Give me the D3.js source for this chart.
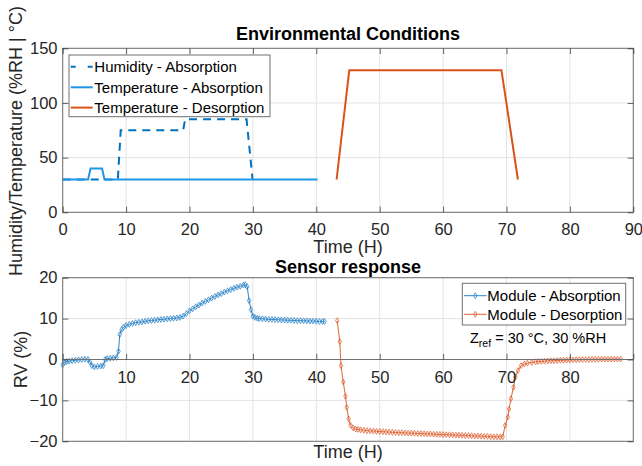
<!DOCTYPE html>
<html>
<head>
<meta charset="utf-8">
<script src="https://cdn.jsdelivr.net/npm/d3@7"></script>
<style>
  html, body { margin: 0; padding: 0; background: #fff; }
  svg { display: block; font-family: "Liberation Sans", Arial, Helvetica, sans-serif; }
</style>
</head>
<body>
<svg id="chart" width="642" height="466"></svg>
<script>
// ---------- DATA ----------
// Top panel: environmental conditions
const humAbsTime = [0, 8.7, 9.15, 19.0, 19.3, 29.0, 29.95];
const humAbsVal  = [30, 30, 75, 75, 85, 85, 30];
const tempAbsTime = [0, 4.0, 4.4, 6.2, 6.6, 40.2];
const tempAbsVal  = [30, 30, 40, 40, 30, 30];
const tempDesTime = [43.2, 45.2, 69.2, 71.8];
const tempDesVal  = [30, 130, 130, 30];

// Bottom panel: sensor response (RV %)
const absTime = [0, 0.3, 0.6, 1.0, 1.5, 2.0, 2.5, 3.0, 3.5, 4.0, 4.3, 4.6, 5.0, 5.5, 6.0, 6.4, 6.7, 7.0, 7.5, 8.0, 8.5, 8.8, 9.0, 9.3, 9.6,
  10.0, 10.5, 11.0, 11.5, 12.0, 12.5, 13.0, 13.5, 14.0, 14.5, 15.0, 15.5, 16.0, 16.5, 17.0, 17.5, 18.0, 18.5, 19.0, 19.5,
  20.0, 20.5, 21.0, 21.5, 22.0, 22.5, 23.0, 23.5, 24.0, 24.5, 25.0, 25.5, 26.0, 26.5, 27.0, 27.5, 28.0, 28.5, 28.8, 29.1, 29.4, 29.7,
  30.0, 30.3, 30.7, 31.0, 31.5, 32.0, 32.5, 33.0, 33.5, 34.0, 34.5, 35.0, 35.5, 36.0, 36.5, 37.0, 37.5, 38.0, 38.5, 39.0, 39.5,
  40.0, 40.5, 41.0, 41.3];
const absRV = [-1.3, -0.7, -0.5, -0.4, -0.3, -0.2, -0.1, 0.0, 0.1, 0.0, -0.6, -1.5, -1.8, -1.7, -1.6, -1.5, 0.0, 0.2, 0.3, 0.4, 0.5, 2.0, 6.1, 7.3, 7.9,
  8.3, 8.6, 8.8, 9.0, 9.1, 9.2, 9.35, 9.45, 9.55, 9.6, 9.7, 9.8, 9.85, 9.95, 10.0, 10.1, 10.15, 10.3, 10.6, 11.2,
  11.9, 12.4, 12.9, 13.3, 13.8, 14.2, 14.6, 15.0, 15.4, 15.8, 16.1, 16.5, 16.8, 17.1, 17.4, 17.7, 17.9, 18.2, 18.3, 17.8, 14.4, 12.2,
  10.6, 10.3, 10.1, 10.0, 9.95, 9.9, 9.8, 9.8, 9.75, 9.7, 9.7, 9.65, 9.6, 9.6, 9.55, 9.5, 9.5, 9.45, 9.45, 9.4, 9.4,
  9.35, 9.3, 9.3, 9.3];

const desTime = [43.3, 43.7, 43.9, 44.25, 44.6, 44.8, 45.1, 45.4, 45.8, 46.2, 46.6, 47.0, 47.5, 48.0, 48.5, 49.0, 49.5,
  50.0, 50.5, 51.0, 51.5, 52.0, 52.5, 53.0, 53.5, 54.0, 54.5, 55.0, 55.5, 56.0, 56.5, 57.0, 57.5, 58.0, 58.5, 59.0, 59.5,
  60.0, 60.5, 61.0, 61.5, 62.0, 62.5, 63.0, 63.5, 64.0, 64.5, 65.0, 65.5, 66.0, 66.5, 67.0, 67.5, 68.0, 68.5, 69.0, 69.4,
  69.8, 70.2, 70.4, 70.7, 71.1, 71.4, 71.8, 72.3, 72.8, 73.3, 74.0, 74.6, 75.0, 75.5, 76.0, 76.5, 77.0, 77.5, 78.0, 78.5,
  79.0, 79.5, 80.0, 80.5, 81.0, 81.5, 82.0, 82.5, 83.0, 83.5, 84.0, 84.5, 85.0, 85.5, 86.0, 86.5, 87.0, 87.5, 88.0];
const desRV = [9.5, 4.4, -1.5, -5.5, -9.0, -11.7, -14.5, -16.1, -16.7, -17.0, -17.1, -17.2, -17.3, -17.4, -17.45, -17.5, -17.55,
  -17.6, -17.65, -17.7, -17.75, -17.8, -17.85, -17.9, -17.9, -17.95, -18.0, -18.0, -18.05, -18.1, -18.1, -18.15, -18.2, -18.2, -18.25, -18.3, -18.3,
  -18.35, -18.4, -18.4, -18.45, -18.5, -18.5, -18.55, -18.6, -18.6, -18.65, -18.7, -18.7, -18.75, -18.8, -18.8, -18.85, -18.9, -18.9, -18.95, -18.9,
  -16.1, -14.1, -12.1, -9.6, -6.8, -4.3, -2.7, -1.5, -1.1, -0.9, -0.7, -0.55, -0.5, -0.45, -0.4, -0.35, -0.3, -0.3, -0.25, -0.2,
  -0.2, -0.15, -0.1, -0.1, -0.05, -0.05, 0.0, 0.0, 0.0, 0.05, 0.05, 0.05, 0.1, 0.1, 0.1, 0.1, 0.1, 0.1, 0.1];

// Tick values / labels
const xTicks = [0, 10, 20, 30, 40, 50, 60, 70, 80, 90];
const xTicksBottomLabels = [10, 20, 30, 40, 50, 60, 70, 80];
const yTicksTop = [0, 50, 100, 150];
const yTicksBottom = [-20, -10, 0, 10, 20];

const topLegend = ["Humidity - Absorption", "Temperature - Absorption", "Temperature - Desorption"];
const bottomLegend = ["Module - Absorption", "Module - Desorption"];

// ---------- STYLE ----------
const C = {
  hum: "#0072BD",
  tempAbs: "#1E96E6",
  tempDes: "#D95319",
  modAbs: "#2F86C9",
  modDes: "#E0673A",
  axis: "#707070",
  text: "#262626",
  grid: "#e3e3e3"
};

const svg = d3.select("#chart");

const L = 62.7, R = 633.3;
const xTop = d3.scaleLinear().domain([0, 90]).range([L, R]);
const yTop = d3.scaleLinear().domain([0, 150]).range([212.3, 48.3]);
const xBot = d3.scaleLinear().domain([0, 90]).range([L, R]);
const yBot = d3.scaleLinear().domain([-20, 20]).range([441.3, 277.7]);

const tickLen = 5.7;
const tickFont = "16.5px";

function styleAxis(g, keepText) {
  g.select(".domain").remove();
  g.selectAll(".tick line").attr("stroke", C.text).attr("stroke-width", 0.7);
  g.selectAll(".tick text").attr("fill", C.text).style("font-size", tickFont)
    .style("font-family", "'Liberation Sans', Arial, sans-serif");
  if (!keepText) g.selectAll(".tick text").remove();
}

function panel(x, y, xtickValues, ytickValues) {
  const g = svg.append("g");
  const [y0, y1] = y.range();
  g.append("g").selectAll("line").data(xtickValues).join("line")
    .attr("x1", d => x(d)).attr("x2", d => x(d)).attr("y1", y1).attr("y2", y0)
    .attr("stroke", C.grid).attr("stroke-width", 1);
  g.append("g").selectAll("line").data(ytickValues).join("line")
    .attr("x1", L).attr("x2", R).attr("y1", d => y(d)).attr("y2", d => y(d))
    .attr("stroke", C.grid).attr("stroke-width", 1);
  return g;
}

function frame(x, y) {
  const [y0, y1] = y.range();
  svg.append("rect").attr("x", L).attr("y", y1).attr("width", R - L).attr("height", y0 - y1)
    .attr("fill", "none").attr("stroke", C.axis).attr("stroke-width", 1);
}

const zip = (a, b) => a.map((v, i) => [v, b[i]]);

// ================= TOP PANEL =================
panel(xTop, yTop, xTicks, yTicksTop);

const lineTop = d3.line().x(d => xTop(d[0])).y(d => yTop(d[1]));

svg.append("path").datum(zip(humAbsTime, humAbsVal)).attr("d", lineTop)
  .attr("fill", "none").attr("stroke", C.hum).attr("stroke-width", 2).attr("stroke-dasharray", "8,6");
svg.append("path").datum(zip(tempAbsTime, tempAbsVal)).attr("d", lineTop)
  .attr("fill", "none").attr("stroke", C.tempAbs).attr("stroke-width", 2);
svg.append("path").datum(zip(tempDesTime, tempDesVal)).attr("d", lineTop)
  .attr("fill", "none").attr("stroke", C.tempDes).attr("stroke-width", 2);

frame(xTop, yTop);

svg.append("g").attr("transform", `translate(0,${yTop(0)})`)
  .call(d3.axisBottom(xTop).tickValues(xTicks).tickSizeInner(-tickLen).tickSizeOuter(0).tickPadding(11.3).tickFormat(d3.format("d")))
  .call(g => styleAxis(g, true));
svg.append("g").attr("transform", `translate(0,${yTop(150)})`)
  .call(d3.axisTop(xTop).tickValues(xTicks).tickSizeInner(-tickLen).tickSizeOuter(0))
  .call(g => styleAxis(g, false));
svg.append("g").attr("transform", `translate(${L},0)`)
  .call(d3.axisLeft(yTop).tickValues(yTicksTop).tickSizeInner(-tickLen).tickSizeOuter(0).tickPadding(5.2))
  .call(g => styleAxis(g, true));
svg.append("g").attr("transform", `translate(${R},0)`)
  .call(d3.axisRight(yTop).tickValues(yTicksTop).tickSizeInner(-tickLen).tickSizeOuter(0))
  .call(g => styleAxis(g, false));

svg.append("text").attr("x", (L + R) / 2).attr("y", 40).attr("text-anchor", "middle")
  .style("font-size", "18px").style("font-weight", "bold").attr("fill", "#000").text("Environmental Conditions");
svg.append("text").attr("x", (L + R) / 2).attr("y", 252.5).attr("text-anchor", "middle")
  .style("font-size", "18px").attr("fill", C.text).text("Time (H)");
svg.append("text").attr("transform", `translate(22,141) rotate(-90)`)
  .attr("text-anchor", "middle").style("font-size", "18px").attr("fill", C.text)
  .text("Humidity/Temperature (%RH | °C)");

{
  const lg = svg.append("g");
  lg.append("rect").attr("x", 69).attr("y", 55).attr("width", 201).attr("height", 61.7)
    .attr("fill", "#fff").attr("stroke", C.axis).attr("stroke-width", 1);
  const rows = [66.7, 87.3, 107.6];
  const cols = [C.hum, C.tempAbs, C.tempDes];
  topLegend.forEach((t, i) => {
    lg.append("line").attr("x1", 70.7).attr("x2", 92.7).attr("y1", rows[i]).attr("y2", rows[i])
      .attr("stroke", cols[i]).attr("stroke-width", 2)
      .attr("stroke-dasharray", i === 0 ? "5,12" : null);
    lg.append("text").attr("x", 94.3).attr("y", rows[i] + 5.3).style("font-size", "15px")
      .attr("fill", "#000").text(t);
  });
}

// ================= BOTTOM PANEL =================
panel(xBot, yBot, xTicks, yTicksBottom);

const lineBot = d3.line().x(d => xBot(d[0])).y(d => yBot(d[1]));
const diamond = d3.symbol().type(d3.symbolDiamond).size(10);

function series(t, v, col) {
  const data = zip(t, v);
  svg.append("path").datum(data).attr("d", lineBot)
    .attr("fill", "none").attr("stroke", col).attr("stroke-width", 1);
  svg.append("g").selectAll("path").data(data).join("path")
    .attr("transform", d => `translate(${xBot(d[0])},${yBot(d[1])})`)
    .attr("d", diamond).attr("fill", "none").attr("stroke", col).attr("stroke-width", 0.8);
}
series(absTime, absRV, C.modAbs);
series(desTime, desRV, C.modDes);

frame(xBot, yBot);

svg.append("line").attr("x1", L).attr("x2", R).attr("y1", yBot(0)).attr("y2", yBot(0))
  .attr("stroke", C.axis).attr("stroke-width", 1);
svg.append("g").attr("transform", `translate(0,${yBot(0)})`)
  .call(d3.axisBottom(xBot).tickValues(xTicks).tickSizeInner(-tickLen).tickSizeOuter(0).tickPadding(11.3)
    .tickFormat(d => xTicksBottomLabels.includes(d) ? d3.format("d")(d) : ""))
  .call(g => styleAxis(g, true));
svg.append("g").attr("transform", `translate(${L},0)`)
  .call(d3.axisLeft(yBot).tickValues(yTicksBottom).tickSizeInner(-tickLen).tickSizeOuter(0).tickPadding(5.2))
  .call(g => styleAxis(g, true));
svg.append("g").attr("transform", `translate(${R},0)`)
  .call(d3.axisRight(yBot).tickValues(yTicksBottom).tickSizeInner(-tickLen).tickSizeOuter(0))
  .call(g => styleAxis(g, false));

svg.append("text").attr("x", (L + R) / 2).attr("y", 273).attr("text-anchor", "middle")
  .style("font-size", "18px").style("font-weight", "bold").attr("fill", "#000").text("Sensor response");
svg.append("text").attr("x", (L + R) / 2).attr("y", 458).attr("text-anchor", "middle")
  .style("font-size", "18px").attr("fill", C.text).text("Time (H)");
svg.append("text").attr("transform", `translate(27,${(yBot.range()[0] + yBot.range()[1]) / 2}) rotate(-90)`)
  .attr("text-anchor", "middle").style("font-size", "18px").attr("fill", C.text).text("RV (%)");

{
  const lg = svg.append("g");
  lg.append("rect").attr("x", 462.3).attr("y", 283.3).attr("width", 163.4).attr("height", 41.7)
    .attr("fill", "#fff").attr("stroke", C.axis).attr("stroke-width", 1);
  const rows = [295.7, 314.3];
  const cols = [C.modAbs, C.modDes];
  bottomLegend.forEach((t, i) => {
    lg.append("line").attr("x1", 464).attr("x2", 486.7).attr("y1", rows[i]).attr("y2", rows[i])
      .attr("stroke", cols[i]).attr("stroke-width", 1);
    lg.append("path").attr("transform", `translate(475.3,${rows[i]})`).attr("d", diamond)
      .attr("fill", "none").attr("stroke", cols[i]).attr("stroke-width", 0.8);
    lg.append("text").attr("x", 487.3).attr("y", rows[i] + 5.3).style("font-size", "15px")
      .attr("fill", "#000").text(t);
  });
}

{
  const t = svg.append("text").attr("x", 470).attr("y", 343.3).style("font-size", "14.5px").attr("fill", "#000");
  t.append("tspan").text("Z");
  t.append("tspan").attr("dy", 4).style("font-size", "10.5px").text("ref");
  t.append("tspan").attr("dy", -4).text(" = 30 °C, 30 %RH");
}
</script>
</body>
</html>
